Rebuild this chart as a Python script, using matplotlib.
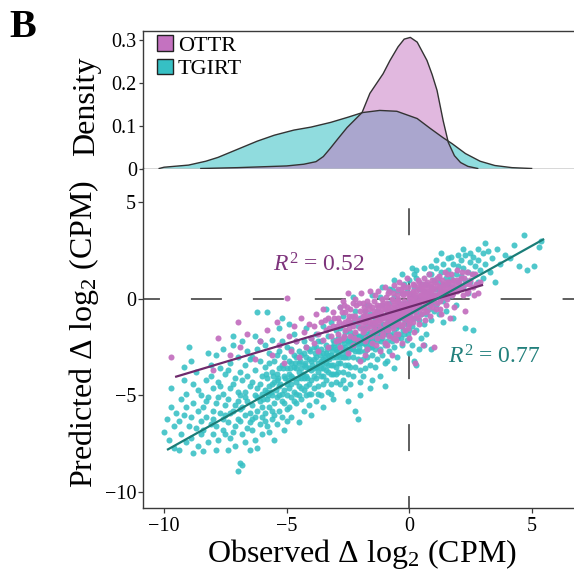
import matplotlib
matplotlib.use('Agg')
import matplotlib.pyplot as plt
from matplotlib.patches import Patch
import numpy as np

plt.rcParams['font.family'] = ['Liberation Serif', 'DejaVu Serif']
plt.rcParams['mathtext.fontset'] = 'custom'
plt.rcParams['mathtext.rm'] = 'Liberation Serif'
plt.rcParams['mathtext.it'] = 'Liberation Serif:italic'
plt.rcParams['lines.scale_dashes'] = False

# ---------------- data ----------------
groups = ['OTTR', 'TGIRT']

# density curves (x, density)
tgirt_dens_x = [-10.2, -10.0, -9.0, -8.3, -7.8, -7.0, -6.2, -5.5, -4.7, -4.0, -3.2, -2.5, -1.9, -1.2, -0.5, 0.33, 0.86, 1.39, 1.76, 2.3, 2.9, 3.5, 4.2, 5.0]
tgirt_dens_y = [0.0, 0.003, 0.008, 0.017, 0.026, 0.045, 0.064, 0.078, 0.09, 0.097, 0.108, 0.12, 0.131, 0.136, 0.134, 0.117, 0.094, 0.072, 0.058, 0.035, 0.017, 0.007, 0.002, 0.0]
ottr_dens_x = [-8.5, -7.0, -6.0, -5.0, -4.3, -3.8, -3.5, -3.22, -2.9, -2.53, -1.92, -1.6, -1.06, -0.78, -0.45, -0.2, 0.05, 0.33, 0.73, 0.94, 1.14, 1.39, 1.6, 1.85, 2.1, 2.4, 2.8]
ottr_dens_y = [0.0, 0.002, 0.004, 0.006, 0.01, 0.016, 0.028, 0.047, 0.07, 0.096, 0.131, 0.176, 0.222, 0.253, 0.285, 0.303, 0.307, 0.296, 0.253, 0.22, 0.183, 0.112, 0.061, 0.03, 0.014, 0.005, 0.0]

# scatter points (observed, predicted)
tgirt_pts = [
(-10.0,-6.9),(-9.9,-6.2),(-9.8,-7.3),(-9.7,-5.6),(-9.6,-6.6),(-9.6,-7.7),(-9.5,-5.9),(-9.7,-4.6),
(-9.4,-6.3),(-9.3,-7.0),(-9.3,-5.2),(-9.2,-6.0),(-9.2,-4.2),(-9.1,-7.4),(-9.1,-5.6),(-9.0,-6.6),(-9.0,-2.5),(-9.4,-7.8),(-9.1,-4.9),(-9.2,-3.5),
(-8.9,-6.1),(-8.9,-7.2),(-8.8,-5.4),(-8.8,-4.4),(-8.7,-6.7),(-8.7,-3.8),(-8.6,-5.8),(-8.6,-7.6),(-8.5,-5.0),(-8.5,-6.3),(-8.8,-8.0),(-8.6,-4.7),(-8.9,-3.2),(-8.5,-7.0),
(-8.4,-5.6),(-8.4,-6.8),(-8.3,-4.2),(-8.3,-6.1),(-8.2,-7.4),(-8.2,-5.1),(-8.1,-3.4),(-8.1,-6.5),(-8.0,-5.8),(-8.0,-4.6),(-8.4,-7.9),(-8.2,-2.8),(-8.0,-7.0),(-8.3,-5.3),(-8.1,-4.0),(-8.0,-6.2),
(-7.9,-5.4),(-7.9,-6.6),(-7.8,-4.3),(-7.8,-7.3),(-7.7,-5.9),(-7.7,-3.6),(-7.6,-2.6),(-7.6,-6.2),(-7.6,-4.9),(-7.5,-5.5),(-7.5,-7.0),(-7.9,-7.8),(-7.8,-5.1),(-7.7,-4.5),(-7.6,-6.8),(-7.5,-3.9),(-7.5,-6.0),(-7.9,-2.9),
(-7.4,-5.2),(-7.4,-6.4),(-7.3,-4.6),(-7.3,-7.2),(-7.3,-3.3),(-7.2,-5.8),(-7.2,-6.9),(-7.2,-2.4),(-7.1,-4.1),(-7.1,-5.5),(-7.1,-7.6),(-7.0,-6.2),(-7.0,-8.9),(-7.0,-4.8),(-7.4,-3.7),(-7.3,-5.9),(-7.2,-4.4),(-7.1,-6.6),(-7.0,-3.0),(-7.4,-7.8),(-7.0,-5.3),(-7.2,-1.9),
(-6.9,-8.5),(-6.9,-5.0),(-6.9,-6.3),(-6.8,-4.2),(-6.8,-7.0),(-6.8,-5.6),(-6.8,-8.6),(-6.7,-3.4),(-6.7,-6.0),(-6.7,-4.8),(-6.6,-5.3),(-6.6,-6.7),(-6.6,-2.7),(-6.5,-7.8),(-6.5,-4.5),(-6.5,-5.9),(-6.9,-3.8),(-6.8,-2.2),(-6.7,-7.4),(-6.6,-4.0),(-6.5,-6.4),(-6.5,-3.1),(-6.9,-5.7),(-6.7,-5.1),
(-6.4,-5.5),(-6.4,-4.3),(-6.4,-6.8),(-6.3,-3.7),(-6.3,-5.0),(-6.3,-6.1),(-6.3,-7.3),(-6.2,-4.6),(-6.2,-5.8),(-6.2,-2.6),(-6.2,-0.7),(-6.1,-3.2),(-6.1,-5.3),(-6.1,-6.5),(-6.0,-4.0),(-6.0,-5.6),(-6.0,-7.0),(-6.0,-4.9),(-6.4,-3.0),(-6.3,-1.9),(-6.2,-7.7),(-6.1,-4.4),(-6.0,-6.1),(-6.4,-6.2),(-6.1,-2.2),(-6.2,-5.1),
(-5.9,-4.7),(-5.9,-5.9),(-5.9,-3.5),(-5.8,-5.2),(-5.8,-6.6),(-5.8,-0.7),(-5.8,-4.1),(-5.7,-5.6),(-5.7,-2.8),(-5.7,-4.5),(-5.7,-6.9),(-5.6,-3.8),(-5.6,-5.0),(-5.6,-6.2),(-5.6,-2.1),(-5.5,-4.3),(-5.5,-5.4),(-5.5,-3.2),(-5.5,-7.3),(-5.9,-2.4),(-5.8,-4.8),(-5.7,-3.3),(-5.6,-5.8),(-5.5,-6.0),(-5.9,-6.3),(-5.6,-4.4),
(-5.4,-3.9),(-5.4,-5.1),(-5.4,-6.5),(-5.3,-2.7),(-5.3,-4.5),(-5.3,-5.8),(-5.3,-1.5),(-5.2,-3.4),(-5.2,-4.9),(-5.2,-6.1),(-5.2,-2.2),(-5.1,-4.0),(-5.1,-5.4),(-5.1,-3.0),(-5.1,-6.8),(-5.0,-4.4),(-5.0,-5.7),(-5.0,-3.6),(-5.0,-2.5),(-5.4,-4.2),(-5.3,-3.6),(-5.2,-5.3),(-5.1,-4.7),(-5.0,-5.0),(-5.4,-2.9),(-5.2,-1.0),(-5.0,-6.3),(-5.3,-5.0),
(-4.9,-3.2),(-4.9,-4.6),(-4.9,-5.6),(-4.8,-2.6),(-4.8,-4.0),(-4.8,-5.1),(-4.8,-6.1),(-4.7,-3.5),(-4.7,-4.8),(-4.7,-1.8),(-4.6,-3.0),(-4.6,-4.3),(-4.6,-5.4),(-4.6,-2.2),(-4.5,-3.8),(-4.5,-5.0),(-4.5,-2.7),(-4.5,-6.4),(-4.9,-3.9),(-4.8,-4.4),(-4.7,-5.3),(-4.7,-2.9),(-4.6,-3.6),(-4.5,-4.5),(-4.9,-1.3),(-4.6,-4.9),(-4.8,-3.3),(-4.5,-3.3),
(-4.4,-2.9),(-4.4,-4.1),(-4.4,-5.2),(-4.3,-3.4),(-4.3,-4.7),(-4.3,-2.2),(-4.3,-5.8),(-4.2,-3.0),(-4.2,-4.0),(-4.2,-5.0),(-4.2,-1.5),(-4.1,-3.6),(-4.1,-4.4),(-4.1,-2.6),(-4.1,-5.5),(-4.0,-3.2),(-4.0,-4.2),(-4.0,-2.0),(-4.0,-4.9),(-4.4,-3.6),(-4.3,-4.1),(-4.2,-3.5),(-4.2,-2.5),(-4.1,-4.9),(-4.0,-3.7),(-4.4,-4.6),(-4.3,-2.8),(-4.1,-3.1),(-4.0,-6.0),(-4.2,-4.5),
(-3.9,-2.5),(-3.9,-3.6),(-3.9,-4.6),(-3.8,-3.0),(-3.8,-4.1),(-3.8,-1.8),(-3.8,-5.3),(-3.7,-2.7),(-3.7,-3.8),(-3.7,-4.5),(-3.6,-3.2),(-3.6,-2.2),(-3.6,-4.0),(-3.6,-5.0),(-3.5,-2.8),(-3.5,-3.6),(-3.5,-4.4),(-3.5,-1.4),(-3.9,-3.1),(-3.8,-3.5),(-3.7,-2.2),(-3.7,-4.9),(-3.6,-2.6),(-3.6,-3.6),(-3.5,-3.1),(-3.9,-4.0),(-3.8,-2.5),(-3.5,-4.0),(-3.7,-3.3),(-3.5,-5.6),
(-3.4,-2.4),(-3.4,-3.3),(-3.4,-4.2),(-3.3,-1.9),(-3.3,-2.9),(-3.3,-3.8),(-3.3,-4.8),(-3.2,-2.5),(-3.2,-3.4),(-3.2,-4.4),(-3.2,-1.2),(-3.1,-2.1),(-3.1,-3.0),(-3.1,-3.9),(-3.1,-5.2),(-3.0,-2.6),(-3.0,-3.5),(-3.0,-1.6),(-3.0,-4.3),(-3.4,-2.8),(-3.4,-3.7),(-3.3,-3.4),(-3.2,-2.9),(-3.2,-3.9),(-3.1,-2.5),(-3.1,-3.4),(-3.0,-3.0),(-3.0,-3.9),(-3.4,-0.5),(-3.2,-4.9),
(-2.9,-2.0),(-2.9,-2.9),(-2.9,-3.8),(-2.8,-1.5),(-2.8,-2.5),(-2.8,-3.3),(-2.8,-4.4),(-2.7,-2.1),(-2.7,-3.0),(-2.7,-3.8),(-2.7,-0.9),(-2.6,-2.5),(-2.6,-3.4),(-2.6,-1.7),(-2.6,-4.6),(-2.5,-2.2),(-2.5,-3.0),(-2.5,-3.9),(-2.5,-1.3),(-2.9,-2.4),(-2.8,-3.0),(-2.7,-2.6),(-2.6,-2.0),(-2.6,-3.0),(-2.5,-2.6),(-2.9,-3.3),(-2.7,-4.2),(-2.5,-5.3),(-2.8,-0.4),(-2.5,-3.4),
(-2.4,-1.7),(-2.4,-2.6),(-2.4,-3.5),(-2.3,-1.2),(-2.3,-2.2),(-2.3,-3.0),(-2.3,-4.0),(-2.2,-1.8),(-2.2,-2.7),(-2.2,-3.5),(-2.2,-0.6),(-2.1,-1.4),(-2.1,-2.3),(-2.1,-3.1),(-2.1,-6.2),(-2.0,-1.9),(-2.0,-2.7),(-2.0,-3.7),(-2.0,-1.0),(-2.4,-2.1),(-2.3,-2.6),(-2.2,-2.2),(-2.1,-1.9),(-2.1,-2.7),(-2.0,-2.3),(-2.4,-4.4),(-2.2,-5.8),(-2.0,-5.0),(-2.3,0.1),(-2.0,-4.3),
(-1.9,-1.5),(-1.9,-2.3),(-1.9,-3.1),(-1.8,-1.0),(-1.8,-1.9),(-1.8,-2.7),(-1.8,-3.6),(-1.7,-1.4),(-1.7,-2.2),(-1.7,-3.0),(-1.7,-0.3),(-1.6,-1.7),(-1.6,-2.5),(-1.6,-3.4),(-1.6,-0.8),(-1.5,-1.3),(-1.5,-2.1),(-1.5,-2.9),(-1.5,-4.2),(-1.9,-1.9),(-1.8,-2.3),(-1.7,-1.8),(-1.7,-2.6),(-1.6,-2.1),(-1.5,-1.7),(-1.9,-4.0),(-1.6,-4.6),(-1.5,0.2),(-1.8,-0.6),(-1.5,-2.5),
(-1.4,-1.0),(-1.4,-1.8),(-1.4,-2.6),(-1.3,-0.6),(-1.3,-1.4),(-1.3,-2.2),(-1.3,-3.1),(-1.2,-1.0),(-1.2,-1.8),(-1.2,-2.6),(-1.2,0.1),(-1.1,-1.3),(-1.1,-2.0),(-1.1,-2.9),(-1.1,-0.3),(-1.0,-0.9),(-1.0,-1.7),(-1.0,-2.4),(-1.0,-4.5),(-1.4,-1.4),(-1.3,-1.8),(-1.2,-1.4),(-1.1,-1.6),(-1.0,-1.3),(-1.4,-3.5),(-1.2,-4.0),(-1.0,-3.3),(-1.1,0.6),
(-0.9,-0.6),(-0.9,-1.4),(-0.9,-2.2),(-0.8,-0.2),(-0.8,-1.0),(-0.8,-1.8),(-0.8,-2.7),(-0.7,-0.6),(-0.7,-1.4),(-0.7,-2.2),(-0.7,0.5),(-0.6,-0.9),(-0.6,-1.7),(-0.6,-2.5),(-0.6,0.1),(-0.5,-0.5),(-0.5,-1.3),(-0.5,-2.0),(-0.5,-3.0),(-0.9,-1.0),(-0.8,-1.4),(-0.7,-1.0),(-0.6,-1.3),(-0.5,-0.9),(-0.9,-3.2),(-0.6,-3.6),
(-0.4,-0.2),(-0.4,-1.0),(-0.4,-1.8),(-0.3,0.3),(-0.3,-0.6),(-0.3,-1.4),(-0.3,-2.4),(-0.2,-0.2),(-0.2,-1.0),(-0.2,-1.8),(-0.2,0.8),(-0.1,-0.5),(-0.1,-1.3),(-0.1,-2.1),(-0.1,0.4),(0.0,-0.1),(0.0,-0.9),(0.0,-1.6),(0.0,-2.8),(-0.4,-0.6),(-0.3,-1.0),(-0.2,-0.6),(-0.1,-0.9),(0.0,-0.5),
(0.1,0.2),(0.1,-0.6),(0.1,-1.4),(0.2,0.6),(0.2,-0.2),(0.2,-1.0),(0.2,-3.2),(0.3,0.1),(0.3,-0.7),(0.3,-1.6),(0.3,1.1),(0.4,-0.3),(0.4,-1.1),(0.4,0.5),(0.5,0.0),(0.5,-0.8),(0.5,-2.0),(0.1,-2.4),(0.2,1.3),(0.4,-2.6),(0.5,0.8),(0.3,-3.4),
(0.6,0.4),(0.6,-0.4),(0.6,-1.3),(0.7,0.8),(0.7,0.0),(0.7,-0.8),(0.8,0.3),(0.8,-0.5),(0.8,1.3),(0.9,0.6),(0.9,-0.2),(0.9,-1.1),(1.0,0.2),(1.0,-0.6),(1.0,1.0),(0.7,-1.8),(0.9,1.7),(0.6,-2.4),(0.9,-2.6),
(1.1,0.5),(1.1,-0.3),(1.2,0.9),(1.2,0.1),(1.2,-0.8),(1.3,0.4),(1.3,1.4),(1.3,2.4),(1.4,0.7),(1.4,-0.1),(1.5,1.1),(1.5,0.3),(1.1,1.6),(1.4,-1.2),(1.5,-0.6),
(1.6,0.8),(1.6,1.5),(1.7,0.2),(1.7,1.1),(1.8,1.8),(1.8,0.6),(1.9,1.3),(1.9,-0.3),(2.0,0.9),(2.0,1.7),(1.6,2.1),(1.8,-1.0),
(2.1,1.2),(2.1,2.0),(2.2,0.6),(2.2,1.6),(2.3,1.0),(2.3,2.3),(2.4,1.4),(2.4,0.3),(2.5,1.9),(2.5,0.9),(2.3,-1.5),(2.6,-1.6),
(2.6,1.3),(2.6,2.2),(2.7,1.7),(2.8,0.9),(2.8,2.0),(2.9,1.5),(3.0,2.4),(3.0,1.1),
(3.1,1.8),(3.2,2.5),(3.3,1.4),(3.4,2.1),(3.6,2.6),(3.7,1.8),(3.9,2.3),(3.5,0.9),
(4.1,2.1),(4.3,2.8),(4.5,1.7),(4.7,3.3),(4.8,1.5),(5.1,1.7),(5.3,2.7),(5.4,3.0),
(-5.95,-5.2),(-5.85,-3.9),(-5.75,-5.0),(-5.65,-4.8),(-5.55,-4.0),(-5.45,-4.7),(-5.35,-4.1),(-5.25,-4.4),(-5.15,-3.6),(-5.05,-4.1),
(-4.95,-4.2),(-4.85,-3.6),(-4.75,-4.1),(-4.65,-3.3),(-4.55,-4.1),(-4.45,-3.2),(-4.35,-3.9),(-4.25,-3.3),(-4.15,-4.1),(-4.05,-2.7),
(-3.95,-3.4),(-3.85,-2.8),(-3.75,-3.5),(-3.65,-2.9),(-3.55,-3.3),(-3.45,-3.0),(-3.35,-2.6),(-3.25,-3.1),(-3.15,-2.7),(-3.05,-2.3),
(-2.95,-2.7),(-2.85,-2.2),(-2.75,-2.8),(-2.65,-2.3),(-2.55,-2.8),(-2.45,-2.3),(-2.35,-1.9),(-2.25,-2.4),(-2.15,-2.0),(-2.05,-2.5),
(-1.95,-2.1),(-1.85,-1.6),(-1.75,-2.4),(-1.65,-1.9),(-1.55,-2.3),(-1.45,-1.6),(-1.35,-2.0),(-1.25,-1.6),(-1.15,-2.2),(-1.05,-1.5),
(-0.95,-1.8),(-0.85,-1.2),(-0.75,-1.9),(-0.65,-1.1),(-0.55,-1.5),(-0.45,-1.4),(-0.35,-2.0),(-0.25,-1.6),(-0.15,-1.2),(-0.05,-1.8),
(-0.8,0.5),(-0.5,0.4),(-0.6,1.0),(-0.3,1.3),(0.0,1.0),(0.1,1.6),(0.3,1.5),(0.6,1.6),(0.9,1.3),(1.1,2.0),(1.4,1.8),(1.7,2.2),(2.0,2.3),(2.2,2.6),(2.5,2.4),(2.8,2.6),(3.1,2.9),
]

ottr_pts = [
(-9.7,-3.0),(-8.0,-3.7),(-7.8,-2.0),(-7.3,-2.9),(-7.0,-1.2),(-6.9,-2.5),(-6.6,-1.8),(-6.3,-3.1),(-6.1,-2.2),(-5.8,-1.6),(-5.6,-2.9),(-5.4,-1.2),(-5.3,-2.4),(-5.1,-3.3),(-5.0,0.05),(-4.9,-1.9),(-4.8,-2.7),(-4.7,-1.4),(-4.6,-2.2),(-4.5,-3.0),(-4.4,-1.0),(-4.3,-1.7),(-4.2,-2.5),(-4.1,-1.3),(-4.0,-2.0),
(-3.9,-1.4),(-3.9,-2.3),(-3.8,-0.8),(-3.7,-1.8),(-3.7,-2.7),(-3.6,-1.2),(-3.5,-2.1),(-3.5,-0.5),(-3.4,-1.6),(-3.3,-2.5),(-3.3,-1.0),(-3.2,-1.9),(-3.1,-0.7),(-3.1,-1.4),(-3.0,-2.2),
(-2.9,-1.0),(-2.9,-1.8),(-2.8,-0.4),(-2.8,-2.5),(-2.7,-1.3),(-2.7,-2.0),(-2.6,-0.7),(-2.6,-1.6),(-2.5,-2.8),(-2.5,-1.1),(-2.5,0.3),(-2.4,-1.9),(-2.4,-0.5),(-2.3,-1.4),(-2.3,-2.4),(-2.2,-0.9),(-2.2,-1.7),(-2.2,0.0),(-2.1,-1.2),(-2.1,-2.1),(-2.0,-0.6),(-2.0,-1.5),(-2.0,-3.2),(-2.4,-1.2),(-2.7,-0.1),
(-1.9,-0.9),(-1.9,-1.7),(-1.9,-0.2),(-1.8,-1.2),(-1.8,-2.2),(-1.8,-0.6),(-1.7,-1.5),(-1.7,-0.1),(-1.7,-2.6),(-1.6,-0.9),(-1.6,-1.9),(-1.6,0.4),(-1.5,-1.2),(-1.5,-0.4),(-1.5,-2.3),(-1.4,-0.8),(-1.4,-1.6),(-1.4,0.2),(-1.3,-1.1),(-1.3,-2.0),(-1.3,-0.3),(-1.2,-0.7),(-1.2,-1.5),(-1.2,-2.7),(-1.1,-1.0),(-1.1,0.0),(-1.1,-1.9),(-1.0,-0.5),(-1.0,-1.3),(-1.0,0.6),(-1.9,-1.3),(-1.7,-0.9),(-1.5,-1.7),(-1.3,-0.7),(-1.2,-1.1),(-1.1,-0.5),(-1.6,-1.4),(-1.4,-1.2),(-1.8,-2.9),(-1.0,-2.3),
(-0.95,-0.9),(-0.9,-0.2),(-0.9,-1.6),(-0.9,-2.4),(-0.85,-1.1),(-0.8,-0.5),(-0.8,0.4),(-0.8,-1.9),(-0.75,-1.3),(-0.7,-0.8),(-0.7,0.0),(-0.7,-2.9),(-0.65,-1.5),(-0.6,-0.3),(-0.6,-1.0),(-0.6,0.7),(-0.55,-2.1),(-0.5,-0.6),(-0.5,-1.3),(-0.5,0.2),(-0.45,-1.8),(-0.4,-0.2),(-0.4,-0.9),(-0.4,0.9),(-0.35,-1.4),(-0.3,-0.5),(-0.3,0.3),(-0.3,-2.3),(-0.25,-1.0),(-0.2,-0.1),(-0.2,-0.7),(-0.2,0.6),(-0.15,-1.6),(-0.1,-0.3),(-0.1,-1.1),(-0.1,1.1),(-0.05,-0.6),(0.0,0.1),(0.0,-1.3),(0.0,-2.0),(-0.9,-0.6),(-0.7,-1.1),(-0.6,-0.6),(-0.5,-0.1),(-0.4,-0.5),(-0.3,-0.9),(-0.2,-0.3),(-0.1,-0.7),(-0.8,-0.9),(-0.55,-0.9),
(0.05,-0.4),(0.1,0.3),(0.1,-1.0),(0.15,-0.1),(0.2,0.7),(0.2,-0.6),(0.2,-1.7),(0.25,-0.2),(0.3,0.4),(0.3,-0.9),(0.35,0.0),(0.4,-0.4),(0.4,0.9),(0.4,-1.3),(0.45,0.2),(0.5,-0.1),(0.5,0.6),(0.5,-0.8),(0.55,-2.4),(0.6,0.3),(0.6,-0.4),(0.6,1.1),(0.65,-1.1),(0.7,0.0),(0.7,0.7),(0.75,-0.6),(0.8,0.4),(0.8,-0.2),(0.8,1.3),(0.85,-0.9),(0.9,0.1),(0.9,0.8),(0.95,-0.4),(1.0,0.5),(1.0,-0.1),(0.1,-0.2),(0.3,-0.4),(0.5,0.2),(0.7,0.3),(0.9,0.4),(0.2,0.1),(0.4,-0.1),(0.6,0.0),(0.8,0.1),(1.0,-2.5),(0.24,-3.3),
(1.05,0.9),(1.1,0.2),(1.1,-0.5),(1.2,0.6),(1.2,1.2),(1.25,-0.1),(1.3,0.4),(1.3,-0.8),(1.4,0.8),(1.4,0.1),(1.45,1.4),(1.5,0.5),(1.5,-0.3),(1.6,0.9),(1.6,0.2),(1.65,-1.0),(1.7,0.6),(1.7,1.3),(1.8,0.3),(1.8,1.0),(1.85,-0.4),(1.9,0.7),(1.95,1.5),(1.2,0.3),(1.5,0.7),
(2.05,0.5),(2.1,1.1),(2.2,0.2),(2.3,0.8),(2.35,1.4),(2.4,0.4),(2.5,1.0),(2.6,0.6),(2.7,1.3),(2.8,0.3),(2.9,0.9),(2.3,-0.6),
(-2.95,-1.4),(-2.85,-2.1),(-2.75,-0.7),(-2.65,-1.9),(-2.55,-0.4),(-2.45,-1.5),(-2.35,-0.9),(-2.25,-2.0),(-2.15,-0.3),(-2.05,-1.1),(-2.6,-1.2),(-2.3,-0.2),
(-1.95,-1.1),(-1.85,-0.4),(-1.85,-1.6),(-1.75,-1.1),(-1.75,-2.0),(-1.65,-0.5),(-1.65,-1.2),(-1.55,-0.9),(-1.55,-1.9),(-1.45,-0.1),(-1.45,-1.4),(-1.35,-0.9),(-1.35,-1.7),(-1.25,-0.4),(-1.25,-1.3),(-1.15,-0.8),(-1.15,-1.6),(-1.05,-0.2),(-1.05,-1.0),(-1.05,-1.8),
(-0.95,-1.3),(-0.95,0.1),(-0.85,-0.3),(-0.85,-1.6),(-0.75,-0.4),(-0.75,-0.9),(-0.65,-0.1),(-0.65,-0.7),(-0.65,-2.0),(-0.55,-0.4),(-0.55,-1.3),(-0.45,0.0),(-0.45,-0.8),(-0.45,-1.2),(-0.35,-0.3),(-0.35,-0.7),(-0.35,0.5),(-0.25,-0.4),(-0.25,-1.3),(-0.25,0.2),(-0.15,-0.5),(-0.15,-0.9),(-0.15,0.3),(-0.05,-0.2),(-0.05,-1.0),(-0.05,0.6),(-0.05,-1.5),
(0.05,0.0),(0.05,-0.8),(0.15,0.4),(0.15,-0.4),(0.15,-1.2),(0.25,0.2),(0.25,-0.6),(0.35,-0.2),(0.35,0.6),(0.35,-1.0),(0.45,-0.5),(0.45,0.5),(0.55,0.1),(0.55,-0.4),(0.55,0.8),(0.65,0.5),(0.65,-0.2),(0.75,0.2),(0.75,0.9),(0.85,0.6),(0.85,-0.3),(0.95,0.2),(0.95,1.0),
(1.05,0.2),(1.15,0.7),(1.15,-0.2),(1.25,0.5),(1.35,0.1),(1.35,1.0),(1.45,0.4),(1.55,0.9),(1.55,0.0),(1.65,0.5),(1.75,0.9),(1.85,0.5),(1.95,1.0),(2.05,0.9),(2.15,0.6),(2.25,1.1),(2.45,0.8),
(-3.45,-1.1),(-3.25,-1.5),(-3.05,-1.0),(-2.85,-1.2),(-2.65,-0.3),(-2.45,-0.9),(-2.25,-1.0),(-2.05,-0.2),(-1.95,0.3),(-1.85,-0.9),
(-1.65,-0.3),(-1.45,-0.6),(-1.25,0.4),(-1.15,-0.3),(-0.95,-0.4),(-0.85,0.3),(-0.65,0.3),(-0.45,0.5),(-0.25,0.7),(-0.05,0.3),
(0.15,0.8),(0.35,1.0),(0.55,0.4),(0.75,-0.2),(0.95,0.6),(1.15,1.1),(1.35,0.6),(1.55,1.3),(1.75,0.2),(1.95,0.4),
(2.15,1.4),(2.35,0.3),(2.55,1.3),(2.65,0.2),(2.75,0.8),(1.25,-0.5),(0.65,-0.7),(0.05,-1.1),(-0.55,-1.8),(-1.35,-2.4),
]

tgirt_x = [p[0] for p in tgirt_pts]
tgirt_y = [p[1] for p in tgirt_pts]
ottr_x = [p[0] for p in ottr_pts]
ottr_y = [p[1] for p in ottr_pts]

# fitted regression lines (endpoints)
ottr_fit_x = [-9.55, 3.02]
ottr_fit_y = [-4.04, 0.73]
tgirt_fit_x = [-9.88, 5.51]
tgirt_fit_y = [-7.82, 3.11]
r2_labels = ['0.52', '0.77']

dens_ticks = [0, 0.1, 0.2, 0.3]
dens_ticklabels = ['0', '0.1', '0.2', '0.3']
xticks = [-10, -5, 0, 5]
yticks = [-10, -5, 0, 5]

# ---------------- style ----------------
ottr_col = '#C472C0'
tgirt_col = '#36C0C4'
ottr_line = '#6E2A6C'
tgirt_line = '#1A7D78'
ottr_text = '#7E347C'
tgirt_text = '#22807C'
spine_col = '#3a3a3a'

W, H = 574, 581
fig = plt.figure(figsize=(W / 100, H / 100), dpi=100)
def fx(px): return px / W
def fy(py): return 1 - py / H

left_px, right_px = 143, 574
ax_top = fig.add_axes([fx(left_px), fy(168.5), fx(right_px) - fx(left_px), fy(31) - fy(168.5)])
ax = fig.add_axes([fx(left_px), fy(508), fx(right_px) - fx(left_px), fy(168.5) - fy(508)])

xlim = (-10.86, 6.73)

# ---- top density panel ----
ax_top.fill_between(tgirt_dens_x, tgirt_dens_y, 0, facecolor=tgirt_col, alpha=0.55,
                    edgecolor='none', zorder=2)
ax_top.fill_between(ottr_dens_x, ottr_dens_y, 0, facecolor=ottr_col, alpha=0.5,
                    edgecolor='none', zorder=3)
ax_top.plot(tgirt_dens_x, tgirt_dens_y, color='#333333', lw=1.0, zorder=4)
ax_top.plot(ottr_dens_x, ottr_dens_y, color='#333333', lw=1.0, zorder=4)
ax_top.set_xlim(*xlim)
ax_top.set_ylim(0, 0.322)
ax_top.set_yticks(dens_ticks)
ax_top.set_yticklabels(dens_ticklabels)
ax_top.tick_params(axis='x', bottom=False, labelbottom=False)
ax_top.tick_params(axis='y', length=3, width=0.9, color=spine_col, pad=1.5, labelsize=14.5)
for s in ['top', 'left', 'bottom']:
    ax_top.spines[s].set_color(spine_col)
    ax_top.spines[s].set_linewidth(1.0)
ax_top.spines['right'].set_visible(False)
ax_top.set_ylabel('Density', fontsize=23)
ax_top.yaxis.set_label_coords(-0.098, 0.45)

handles = [Patch(facecolor=ottr_col, edgecolor='#222222', lw=1.0),
           Patch(facecolor=tgirt_col, edgecolor='#222222', lw=1.0)]
ax_top.legend(handles, groups, loc='upper left', bbox_to_anchor=(0.028, 0.985),
              frameon=False, fontsize=16, handlelength=0.72, handleheight=0.72,
              handletextpad=0.2, labelspacing=0.12, borderpad=0.1, borderaxespad=0)

# ---- scatter panel ----
ax.axvline(0, color='#333333', lw=1.1, ls=(10.8, (19.4, 32.4)), zorder=1)
ax.axhline(0, color='#333333', lw=1.1, ls=(10.1, (22.3, 22.3)), zorder=1)
ax.scatter(tgirt_x, tgirt_y, s=19, color=tgirt_col, linewidths=0, alpha=0.88, zorder=2)
ax.scatter(ottr_x, ottr_y, s=19, color=ottr_col, linewidths=0, alpha=0.95, zorder=3)
ax.plot(ottr_fit_x, ottr_fit_y, color=ottr_line, lw=1.6, zorder=4, solid_capstyle='butt')
ax.plot(tgirt_fit_x, tgirt_fit_y, color=tgirt_line, lw=1.6, zorder=4, solid_capstyle='butt')
ax.text(-5.55, 1.40, r'$R^2$ = ' + r2_labels[0], color=ottr_text, fontsize=17,
        va='baseline', ha='left', zorder=5)
ax.text(1.59, -3.32, r'$R^2$ = ' + r2_labels[1], color=tgirt_text, fontsize=17,
        va='baseline', ha='left', zorder=5)

ax.set_xlim(*xlim)
ax.set_ylim(-10.83, 6.76)
ax.set_xticks(xticks)
ax.set_yticks(yticks)
ax.tick_params(axis='both', length=3.5, width=0.9, color=spine_col, labelsize=14.5)
ax.tick_params(axis='y', pad=1.5)
ax.tick_params(axis='x', pad=3)
for s in ['left', 'bottom']:
    ax.spines[s].set_color(spine_col)
    ax.spines[s].set_linewidth(1.0)
ax.spines['top'].set_visible(False)
ax.spines['right'].set_visible(False)
ax.set_xlabel(r'Observed $\Delta$ log$_2$ (CPM)', fontsize=23)
ax.set_ylabel(r'Predicted $\Delta$ log$_2$ (CPM)', fontsize=23)
ax.xaxis.set_label_coords(0.508, -0.085)
ax.yaxis.set_label_coords(-0.098, 0.513)

fig.text(0.017, 0.985, 'B', fontsize=29, fontweight='bold', va='top', ha='left')

fig.savefig('out.png', dpi=100)
